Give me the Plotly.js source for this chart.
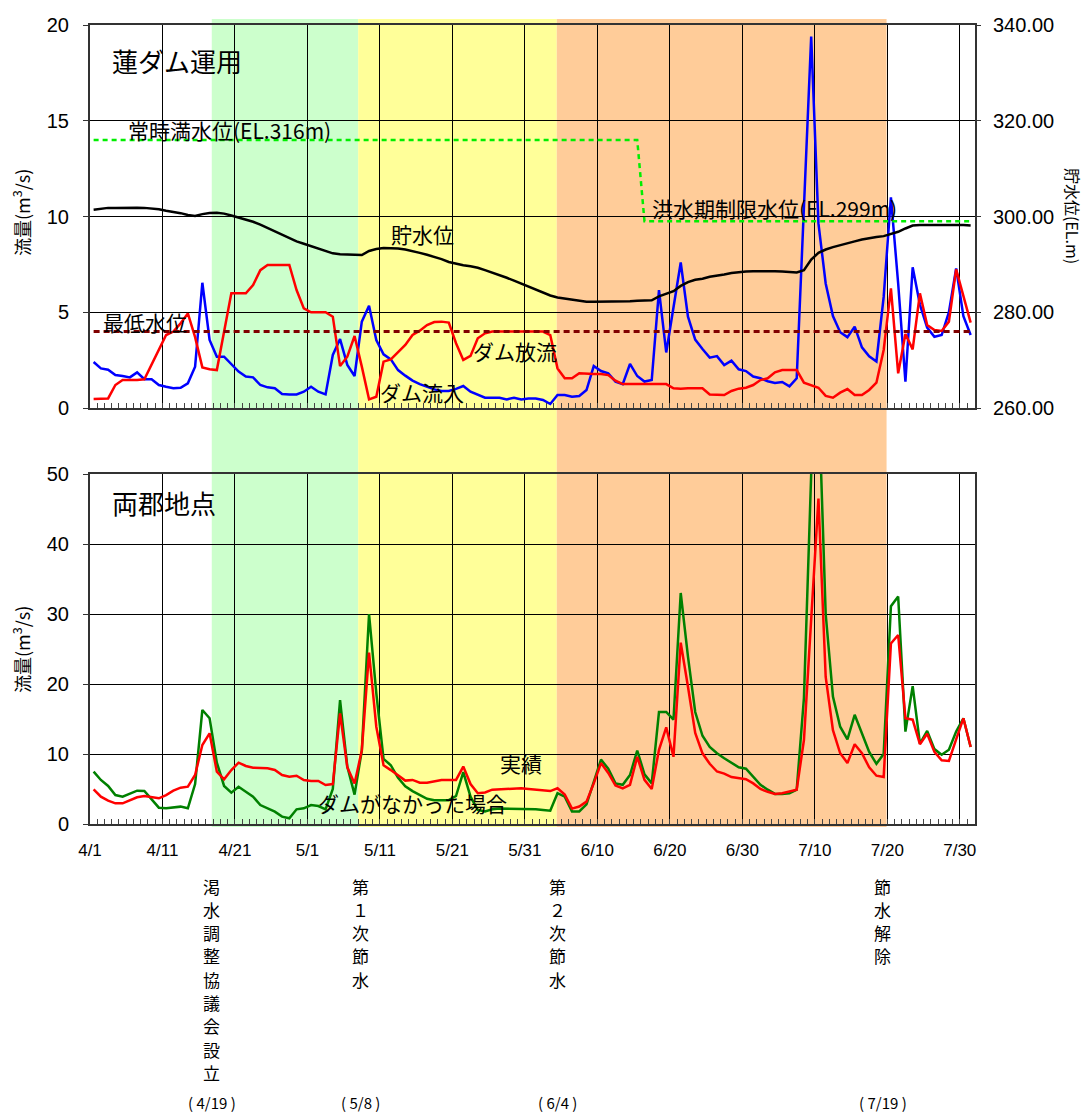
<!DOCTYPE html>
<html>
<head>
<meta charset="utf-8">
<script src="https://cdn.plot.ly/plotly-3.0.1.min.js"></script>
<style>
html,body{margin:0;padding:0;background:#fff;}
#chart{width:1087px;height:1115px;}
</style>
</head>
<body>
<div id="chart"></div>
<script>
// ---------------- DATA ----------------
// daily values from 4/1 to 7/31 (122 days)
const startDate = '2005-04-01';

// Dam inflow (m3/s) - ダム流入
const damInflow = [
  2.4, 2.07, 2.0, 1.72, 1.67, 1.6, 1.86, 1.5, 1.5, 1.2,
  1.11, 1.03, 1.06, 1.29, 2.16, 6.54, 3.55, 2.68, 2.68, 2.28,
  1.9, 1.64, 1.6, 1.2, 1.08, 1.03, 0.73, 0.71, 0.71, 0.85,
  1.11, 0.85, 0.71, 2.77, 3.6, 2.25, 1.67, 4.51, 5.34, 3.55,
  2.8, 2.54, 1.98, 1.69, 1.43, 1.25, 1.11, 0.97, 0.89, 0.89,
  1.0, 1.15, 0.85, 0.68, 0.54, 0.54, 0.54, 0.45, 0.54, 0.45,
  0.5, 0.5, 0.42, 0.21, 0.68, 0.68, 0.59, 0.63, 0.94, 2.19,
  1.93, 1.81, 1.38, 1.25, 2.3, 1.67, 1.38, 1.46, 6.16, 2.9,
  5.2, 7.6, 4.77, 3.57, 3.08, 2.63, 2.71, 2.24, 2.47, 2.02,
  1.93, 1.64, 1.55, 1.4, 1.31, 1.36, 1.13, 1.55, 10.5, 19.4,
  9.64, 6.5, 4.8, 3.96, 3.7, 4.25, 3.17, 2.7, 2.43, 5.8,
  11.0, 6.5, 1.37, 7.35, 5.4, 4.2, 3.72, 3.81, 5.0, 7.29,
  4.8, 3.81
];

// Dam release (m3/s) - ダム放流
const damRelease = [
  0.47, 0.47, 0.5, 1.2, 1.46, 1.46, 1.46, 1.5, 2.25, 3.06,
  3.81, 3.99, 4.42, 4.94, 3.7, 2.12, 2.02, 1.98, 4.0, 5.99,
  5.99, 5.99, 6.42, 7.2, 7.47, 7.47, 7.47, 7.47, 6.16, 5.2,
  5.0, 5.0, 5.0, 4.77, 2.19, 2.68, 3.76, 2.16, 0.45, 0.59,
  2.42, 2.54, 2.89, 3.29, 3.81, 4.04, 4.33, 4.49, 4.51, 4.46,
  3.38, 2.51, 2.72, 3.64, 3.9, 3.99, 3.99, 3.99, 3.99, 3.99,
  3.99, 3.99, 3.99, 3.81, 2.07, 1.55, 1.55, 1.81, 1.78, 1.78,
  1.78, 1.72, 1.43, 1.25, 1.25, 1.25, 1.25, 1.25, 1.25, 1.25,
  1.03, 1.0, 1.03, 1.03, 1.03, 0.71, 0.68, 0.68, 0.89, 1.01,
  1.06, 1.2, 1.46, 1.55, 1.86, 1.98, 1.98, 1.98, 1.32, 1.2,
  1.06, 0.63, 0.54, 0.8, 0.99, 0.68, 0.68, 0.94, 1.32, 3.03,
  6.25, 1.81, 3.86, 3.06, 5.99, 4.33, 4.07, 4.02, 4.51, 7.24,
  5.81, 4.46
];

// Reservoir water level (EL.m) - 貯水位
const reservoirLevel = [
  301.4, 301.6, 301.8, 301.8, 301.85, 301.85, 301.85, 301.8, 301.7, 301.5,
  301.2, 301.0, 300.7, 300.3, 300.1, 300.5, 300.75, 300.8, 300.6, 300.2,
  299.8, 299.4, 298.9, 298.3, 297.6, 296.9, 296.2, 295.5, 294.8, 294.3,
  293.8, 293.3, 292.8, 292.3, 292.1, 292.1, 292.1, 291.95, 292.8, 293.2,
  293.4, 293.4, 293.3, 293.1, 292.8, 292.4, 292.0, 291.6, 291.1, 290.5,
  290.1, 289.8, 289.6, 289.3, 288.8, 288.3, 287.8, 287.2, 286.6, 286.0,
  285.3, 284.7, 284.1, 283.5, 283.1, 282.9, 282.7, 282.4, 282.2, 282.2,
  282.2, 282.2, 282.15, 282.2, 282.3, 282.4, 282.5, 282.5, 283.3, 283.9,
  284.4, 285.5, 286.3, 286.8, 287.0, 287.4, 287.6, 287.9, 288.2, 288.4,
  288.5, 288.55, 288.6, 288.6, 288.55, 288.5, 288.4, 288.3, 288.8, 291.0,
  292.4, 293.1, 293.6, 294.05, 294.4, 294.8, 295.2, 295.5, 295.7, 295.9,
  296.3, 296.8, 297.5, 298.1, 298.2, 298.2, 298.2, 298.3, 298.35, 298.35,
  298.2, 298.1
];

// Normal / flood-season limit water level (step line) - 常時満水位 / 洪水期制限水位
const normalLevelDay = [0, 75, 76, 121];
const normalLevelValue = [316, 316, 299, 299];

// Minimum water level - 最低水位
const minLevelDay = [0, 121];
const minLevelValue = [276, 276];

// Ryogun point flow (m3/s) - 実績
const flowActual = [
  4.95, 3.9, 3.33, 2.95, 2.95, 3.43, 3.81, 4.0, 3.81, 3.67,
  4.14, 4.76, 5.19, 5.33, 7.0, 11.29, 12.95, 7.48, 6.38, 7.71,
  8.76, 8.29, 8.05, 7.95, 7.95, 7.71, 7.0, 6.76, 6.9, 6.29,
  6.14, 6.14, 5.57, 5.71, 15.8, 8.1, 5.8, 10.5, 24.5, 13.9,
  8.4, 7.7, 6.9, 6.2, 6.3, 5.9, 5.9, 6.1, 6.3, 6.3,
  6.3, 8.2, 5.7, 4.4, 4.5, 4.9, 4.95, 5.0, 5.1, 5.1,
  5.0, 4.9, 4.8, 4.7, 5.1, 4.2, 2.2, 2.5, 3.2, 5.8,
  8.7, 7.3, 5.5, 5.1, 5.6, 9.6, 6.3, 5.0, 10.6, 13.8,
  9.6, 25.9, 19.6, 13.0, 10.1, 8.6, 7.5, 7.2, 6.7, 6.5,
  6.4, 5.8, 5.0, 4.6, 4.3, 4.4, 4.7, 4.9, 12.0, 30.0,
  46.5, 21.0, 13.4, 10.1, 8.7, 11.4, 10.1, 8.1, 6.9, 6.7,
  25.8, 27.0, 15.1, 14.9, 11.4, 12.9, 10.3, 9.1, 9.0, 12.1,
  15.1, 11.0
];
// Ryogun point flow without dam (m3/s) - ダムがなかった場合
const flowWithoutDam = [
  7.48, 6.29, 5.43, 4.14, 3.9, 4.38, 4.76, 4.71, 3.52, 2.33,
  2.24, 2.38, 2.48, 2.24, 5.71, 16.29, 15.1, 8.76, 5.43, 4.48,
  5.33, 4.62, 3.9, 2.71, 2.24, 1.76, 1.05, 0.81, 2.1, 2.24,
  2.71, 2.57, 2.1, 5.0, 17.7, 8.2, 4.2, 10.5, 30.0, 18.7,
  9.3, 8.4, 6.6, 5.4, 4.7, 4.2, 3.6, 3.4, 3.4, 3.4,
  4.0, 7.4, 3.9, 2.0, 1.8, 2.1, 2.2, 2.2, 2.1, 2.1,
  2.1, 2.1, 2.0, 1.9, 4.4, 3.9, 1.8, 1.8, 2.8, 6.0,
  9.2, 7.9, 5.8, 5.6, 7.0, 10.5, 7.1, 5.8, 16.0, 16.0,
  14.9, 33.0, 23.9, 16.0, 12.6, 11.0, 10.1, 9.4, 8.8, 8.1,
  7.9, 6.8, 5.6, 4.9, 4.3, 4.3, 4.4, 4.9, 18.0, 50.0,
  62.0, 30.0, 18.2, 13.9, 12.1, 15.6, 12.9, 10.3, 8.6, 10.0,
  31.1, 32.5, 13.2, 19.7, 11.5, 13.3, 10.7, 9.9, 10.6, 13.2,
  15.1, 11.0
];

// Periods (day offsets from 4/1) - shaded bands
const periodStartDay = [16.8, 37.0, 64.4];
const periodEndDay = [37.0, 64.4, 109.9];

// Events below the chart
const eventNames = ['渇水調整協議会設立', '第１次節水', '第２次節水', '節水解除'];
const eventDates = ['( 4/19 )', '( 5/8 )', '( 6/4 )', '( 7/19 )'];
const eventDay = [16.8, 37.3, 64.5, 109.4];

// ---------------- HELPERS ----------------
const DAY = 86400000;
const base = Date.parse(startDate + 'T00:00:00Z');
function dayToDate(d) {
  return new Date(base + d * DAY).toISOString().slice(0, 19).replace('T', ' ');
}
const xDays = damInflow.map((_, i) => dayToDate(i + 0.5));
const xRange = [dayToDate(0), dayToDate(122.1)];

// pixel -> paper helpers (plot area: x 90..975, y 25..824)
const PL = 90, PR = 975, PT = 25, PB = 824;
const px = X => (X - PL) / (PR - PL);
const py = Y => (PB - Y) / (PB - PT);

const JP = '"Noto Sans CJK JP", "Liberation Sans", sans-serif';
const NUM = '"Liberation Sans", Arial, sans-serif';

// ---------------- TRACES ----------------
const traces = [
  { x: normalLevelDay.map(d => dayToDate(d + 0.5)), y: normalLevelValue, xaxis: 'x', yaxis: 'y2',
    mode: 'lines', line: { color: '#00EE00', width: 2.5, dash: '5px,4px' }, hoverinfo: 'skip' },
  { x: minLevelDay.map(d => dayToDate(d + 0.5)), y: minLevelValue, xaxis: 'x', yaxis: 'y2',
    mode: 'lines', line: { color: '#800000', width: 3, dash: '6px,4px' }, hoverinfo: 'skip' },
  { x: xDays, y: reservoirLevel, xaxis: 'x', yaxis: 'y2', mode: 'lines',
    line: { color: '#000000', width: 2.5 } },
  { x: xDays, y: damInflow, xaxis: 'x', yaxis: 'y', mode: 'lines',
    line: { color: '#0000FF', width: 2.5 } },
  { x: xDays, y: damRelease, xaxis: 'x', yaxis: 'y', mode: 'lines',
    line: { color: '#FF0000', width: 2.5 } },
  { x: xDays, y: flowWithoutDam, xaxis: 'x2', yaxis: 'y3', mode: 'lines',
    line: { color: '#008000', width: 2.5 } },
  { x: xDays, y: flowActual, xaxis: 'x2', yaxis: 'y3', mode: 'lines',
    line: { color: '#FF0000', width: 2.5 } }
];

// ---------------- SHAPES ----------------
const bandColors = ['#CCFFCC', '#FFFF99', '#FFCC99'];
const shapes = periodStartDay.map((s, i) => ({
  type: 'rect', xref: 'x', yref: 'paper',
  x0: dayToDate(s), x1: dayToDate(periodEndDay[i]),
  y0: py(827), y1: py(19),
  fillcolor: bandColors[i], line: { width: 0 }, layer: 'below'
}));

// ---------------- ANNOTATIONS ----------------
function label(text, X, Y, size, extra) {
  return Object.assign({
    text: text, xref: 'paper', yref: 'paper', x: px(X), y: py(Y),
    xanchor: 'left', yanchor: 'middle', showarrow: false,
    font: { family: JP, size: size, color: '#000' }
  }, extra || {});
}
const annotations = [
  label('蓮ダム運用', 110, 60, 26),
  label('両郡地点', 110, 502, 26),
  label('常時満水位(EL.316m)', 126, 130, 21),
  label('洪水期制限水位(EL.299m)', 650, 208, 21),
  label('最低水位', 101, 322, 21),
  label('貯水位', 389, 234, 21),
  label('ダム放流', 471, 351, 21),
  label('ダム流入', 378, 392, 21),
  label('実績', 498, 763, 21),
  label('ダムがなかった場合', 316, 803, 21),
  label('流量(m<sup>3</sup>/s)', 21, 213, 18, { xanchor: 'center', textangle: -90 }),
  label('流量(m<sup>3</sup>/s)', 21, 650, 18, { xanchor: 'center', textangle: -90 }),
  label('貯水位(EL.m)', 1073, 216, 16, { xanchor: 'center', textangle: 90 })
];
eventNames.forEach((name, i) => {
  Array.from(name).forEach((ch, k) => {
    annotations.push({
      text: ch, xref: 'x', yref: 'paper',
      x: dayToDate(eventDay[i]), y: py(886 + k * 23.3), xanchor: 'center', yanchor: 'middle',
      showarrow: false, font: { family: JP, size: 17, color: '#000' }
    });
  });
  annotations.push({
    text: eventDates[i], xref: 'x', yref: 'paper',
    x: dayToDate(eventDay[i]), y: py(1102), xanchor: 'center', yanchor: 'middle',
    showarrow: false, font: { family: JP, size: 15, color: '#000' }
  });
});

// ---------------- LAYOUT ----------------
const gridStyle = { showgrid: true, gridcolor: '#000', gridwidth: 1, zeroline: false };
const xCommon = Object.assign({
  type: 'date', range: xRange, tick0: dayToDate(0), dtick: 10 * DAY,
  ticks: 'inside', ticklen: 5, tickcolor: '#444',
  minor: { tick0: dayToDate(0), dtick: DAY, ticks: 'inside', ticklen: 5, tickcolor: '#444', showgrid: false },
  showline: true, linecolor: '#333', linewidth: 2, mirror: true
}, gridStyle);

const layout = {
  width: 1087, height: 1115,
  margin: { l: PL, r: 1087 - PR, t: PT, b: 1115 - PB },
  paper_bgcolor: '#ffffff', plot_bgcolor: 'rgba(0,0,0,0)',
  showlegend: false,
  font: { family: NUM, size: 20, color: '#000' },
  xaxis: Object.assign({}, xCommon, { domain: [0, 1], anchor: 'y', showticklabels: false }),
  yaxis: Object.assign({
    domain: [py(408), 1], range: [0, 20], tick0: 0, dtick: 5, anchor: 'x',
    ticks: 'outside', ticklen: 5, tickcolor: '#333', ticklabelstandoff: 10,
    showline: true, linecolor: '#333', linewidth: 2, mirror: true,
    tickfont: { family: NUM, size: 20 }
  }, gridStyle),
  yaxis2: {
    overlaying: 'y', side: 'right', anchor: 'x', range: [260, 340], tick0: 260, dtick: 20,
    tickformat: '.2f', showgrid: false, zeroline: false, showline: false,
    ticks: 'outside', ticklen: 5, tickcolor: '#333', ticklabelstandoff: 8,
    tickfont: { family: NUM, size: 20 }
  },
  xaxis2: Object.assign({}, xCommon, {
    domain: [0, 1], anchor: 'y3', showticklabels: true, tickformat: '%-m/%-d',
    tickfont: { family: NUM, size: 17 }, ticklabelstandoff: 10
  }),
  yaxis3: Object.assign({
    domain: [0, py(474)], range: [0, 50], tick0: 0, dtick: 10, anchor: 'x2',
    ticks: 'outside', ticklen: 5, tickcolor: '#333', ticklabelstandoff: 10,
    showline: true, linecolor: '#333', linewidth: 2, mirror: true,
    tickfont: { family: NUM, size: 20 }
  }, gridStyle),
  shapes: shapes,
  annotations: annotations
};

Plotly.newPlot('chart', traces, layout, { staticPlot: true, displayModeBar: false });
</script>
</body>
</html>
